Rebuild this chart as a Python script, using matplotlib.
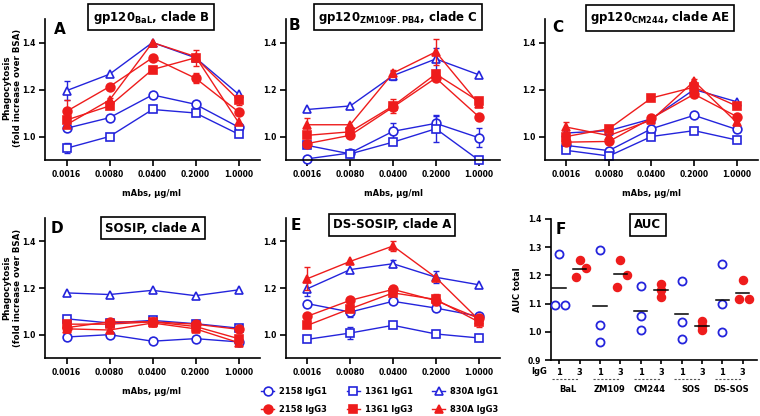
import numpy as np
import matplotlib
matplotlib.use('Agg')
from matplotlib import pyplot as plt
from matplotlib.lines import Line2D
import matplotlib.transforms as mtransforms

plt.rcParams['font.family'] = ['DejaVu Sans']
plt.rcParams['font.weight'] = 'bold'
plt.rcParams['axes.labelweight'] = 'bold'
plt.rcParams['mathtext.fontset'] = 'dejavusans'
plt.rcParams['axes.linewidth'] = 1.2

BLUE = '#2424dc'
RED = '#ee1c1c'

# ---- data ----
conc_labels = ['0.0016', '0.0080', '0.0400', '0.2000', '1.0000']
series_names = ['2158 IgG1', '1361 IgG1', '830A IgG1', '2158 IgG3', '1361 IgG3', '830A IgG3']

# rows follow series_names
bal_vals = [[1.035, 1.08, 1.177, 1.137, 1.04],
            [0.95, 1.0, 1.115, 1.10, 1.01],
            [1.195, 1.265, 1.40, 1.335, 1.18],
            [1.107, 1.212, 1.335, 1.248, 1.105],
            [1.07, 1.13, 1.285, 1.335, 1.156],
            [1.05, 1.155, 1.40, 1.34, 1.06]]
bal_err = [[0, 0, 0, 0.012, 0],
           [0.022, 0, 0, 0, 0],
           [0.04, 0, 0, 0, 0],
           [0.048, 0, 0, 0.022, 0],
           [0, 0, 0, 0.035, 0.02],
           [0, 0.01, 0, 0, 0]]

zm_vals = [[0.905, 0.93, 1.022, 1.056, 0.995],
           [0.962, 0.926, 0.976, 1.033, 0.90],
           [1.115, 1.13, 1.259, 1.33, 1.263],
           [0.97, 1.005, 1.125, 1.249, 1.085],
           [1.005, 1.02, 1.13, 1.266, 1.15],
           [1.05, 1.05, 1.27, 1.36, 1.14]]
zm_err = [[0, 0, 0.035, 0.035, 0.04],
          [0, 0, 0, 0.055, 0],
          [0, 0, 0.02, 0.045, 0],
          [0, 0, 0, 0, 0],
          [0, 0, 0.03, 0, 0.015],
          [0.03, 0, 0.015, 0.055, 0]]

cm_vals = [[0.962, 0.94, 1.033, 1.09, 1.03],
           [0.941, 0.917, 1.0, 1.025, 0.985],
           [1.015, 1.025, 1.075, 1.20, 1.148],
           [0.976, 0.979, 1.078, 1.18, 1.085],
           [1.0, 1.033, 1.164, 1.21, 1.13],
           [1.04, 1.004, 1.07, 1.235, 1.06]]
cm_err = [[0, 0, 0, 0, 0],
          [0, 0, 0, 0, 0],
          [0, 0, 0, 0, 0],
          [0, 0, 0, 0, 0],
          [0, 0, 0, 0, 0],
          [0.02, 0, 0, 0.01, 0]]

sosip_vals = [[0.99, 1.0, 0.972, 0.983, 0.969],
              [1.068, 1.05, 1.061, 1.047, 1.028],
              [1.179, 1.172, 1.19, 1.167, 1.192],
              [1.03, 1.055, 1.055, 1.045, 1.023],
              [1.045, 1.045, 1.055, 1.035, 0.983],
              [1.025, 1.02, 1.05, 1.025, 0.966]]
sosip_err = [[0] * 5 for _ in range(6)]

ds_vals = [[1.133, 1.097, 1.143, 1.114, 1.079],
           [0.98, 1.007, 1.04, 1.003, 0.986],
           [1.197, 1.279, 1.304, 1.246, 1.214],
           [1.079, 1.147, 1.194, 1.146, 1.07],
           [1.04, 1.111, 1.179, 1.151, 1.055],
           [1.24, 1.314, 1.38, 1.245, 1.065]]
ds_err = [[0, 0.02, 0, 0, 0],
          [0, 0.025, 0, 0, 0],
          [0.03, 0, 0.015, 0.025, 0],
          [0, 0, 0, 0, 0],
          [0, 0, 0, 0.025, 0.02],
          [0.05, 0, 0.02, 0, 0]]

auc_groups = ['BaL', 'ZM109', 'CM244', 'SOS', 'DS-SOS']
auc_igg1 = [[1.277, 1.095, 1.095], [1.29, 1.024, 0.964], [1.164, 1.056, 1.005],
            [1.179, 1.035, 0.974], [1.239, 1.099, 0.999]]
auc_igg3 = [[1.253, 1.194, 1.225], [1.253, 1.16, 1.20], [1.17, 1.148, 1.125],
            [1.04, 1.021, 1.005], [1.184, 1.115, 1.118]]

# ---- styles / layout ----
W, H = 760, 416
markers = ['o', 's', '^']
jitter1 = [[0, -0.18, 0.31], [0, 0, 0], [0, 0, 0], [0, 0, 0], [0, 0, 0]]
jitter3 = [[0, -0.16, 0.33], [0, -0.16, 0.33], [0, 0, 0], [0, 0, 0], [0, -0.2, 0.29]]


def box(l, r, t, b):
    return [l / W, 1 - b / H, (r - l) / W, (b - t) / H]


def fx(px):
    return px / W


def fy(py):
    return 1 - py / H


fig = plt.figure(figsize=(7.6, 4.16), dpi=100)


def style_axes(ax):
    for s in ['top', 'right']:
        ax.spines[s].set_visible(False)
    ax.tick_params(direction='out', length=4, width=1.2, labelsize=5.5, pad=3)


def draw_panel(ax, vals, errs):
    x = np.arange(5)
    for i in range(6):
        col = BLUE if i < 3 else RED
        fc = 'white' if i < 3 else col
        v = np.array(vals[i])
        e = np.array(errs[i])
        z = 2 + i * 0.1 if i < 3 else 4 + i * 0.1
        m = e > 0
        if m.any():
            ax.errorbar(x[m], v[m], yerr=e[m], fmt='none', ecolor=col, elinewidth=1.0,
                        capsize=2.5, capthick=1.0, zorder=z - 0.05, clip_on=False)
        ax.plot(x, v, color=col, lw=1.0, marker=markers[i % 3], ms=6.3, mfc=fc, mec=col,
                mew=1.2, zorder=z, clip_on=False)
    ax.set_xlim(-0.5, 4.5)
    ax.set_ylim(0.9, 1.5)
    ax.set_xticks(x)
    ax.set_xticklabels(conc_labels)
    ax.set_yticks([1.0, 1.2, 1.4])
    ax.set_yticklabels(['1.0', '1.2', '1.4'])
    style_axes(ax)


def title_box(cx, cy, txt):
    fig.text(fx(cx), fy(cy), txt, ha='center', va='center', fontsize=8.5, fontweight='bold',
             bbox=dict(boxstyle='square,pad=0.35', fc='white', ec='black', lw=1.2))


panels = [
    (box(45, 260, 19, 160), bal_vals, bal_err, 'A', (60, 30), (151, 17), 'gp120$_{\\mathbf{BaL}}$, clade B'),
    (box(286, 500, 19, 160), zm_vals, zm_err, 'B', (294, 25), (398, 17), 'gp120$_{\\mathbf{ZM109F.PB4}}$, clade C'),
    (box(545, 758, 19, 160), cm_vals, cm_err, 'C', (558, 28), (660, 18), 'gp120$_{\\mathbf{CM244}}$, clade AE'),
    (box(45, 260, 218, 358), sosip_vals, sosip_err, 'D', (57, 228), (153, 228), 'SOSIP, clade A'),
    (box(286, 500, 218, 358), ds_vals, ds_err, 'E', (296, 225), (392, 225), 'DS-SOSIP, clade A'),
]

for rect, vals, errs, letter, lpos, tpos, title in panels:
    ax = fig.add_axes(rect)
    draw_panel(ax, vals, errs)
    fig.text(fx(lpos[0]), fy(lpos[1]), letter, ha='center', va='center', fontsize=11, fontweight='bold')
    title_box(tpos[0], tpos[1], title)

# x labels
for cx, cy in [(152, 193), (393, 193), (652, 193), (152, 392)]:
    fig.text(fx(cx), fy(cy), 'mAbs, µg/ml', ha='center', va='center', fontsize=6)

# y labels
for cy in [88, 288]:
    fig.text(fx(12), fy(cy), 'Phagocytosis\n(fold increase over BSA)', ha='center', va='center',
             rotation=90, fontsize=6.2, linespacing=1.35)

# ---- panel F ----
axf = fig.add_axes(box(551, 757, 219, 360))
for g in range(5):
    p1 = 2 * g
    p3 = 2 * g + 1
    axf.scatter(p1 + np.array(jitter1[g]), auc_igg1[g], s=34, facecolors='white', edgecolors=BLUE,
                linewidths=1.3, zorder=3, clip_on=False)
    axf.scatter(p3 + np.array(jitter3[g]), auc_igg3[g], s=34, color=RED, zorder=3, clip_on=False)
    axf.plot([p1 - 0.33, p1 + 0.33], [np.mean(auc_igg1[g])] * 2, color='black', lw=1.1, zorder=4)
    axf.plot([p3 - 0.33, p3 + 0.33], [np.mean(auc_igg3[g])] * 2, color='black', lw=1.1, zorder=4)
axf.set_xlim(-0.4, 9.7)
axf.set_ylim(0.9, 1.4)
axf.set_yticks([0.9, 1.0, 1.1, 1.2, 1.3, 1.4])
axf.set_yticklabels(['0.9', '1.0', '1.1', '1.2', '1.3', '1.4'])
axf.set_xticks(np.arange(10))
axf.set_xticklabels(['1', '3'] * 5)
style_axes(axf)
axf.tick_params(axis='x', length=3, labelsize=6)
axf.set_ylabel('AUC total', fontsize=6, fontweight='bold', labelpad=4)

trans = mtransforms.blended_transform_factory(axf.transData, fig.transFigure)
fig.text(fx(539), fy(372), 'IgG', ha='center', va='center', fontsize=6)
for g, name in enumerate(auc_groups):
    axf.plot([2 * g - 0.35, 2 * g + 0.95], [fy(379)] * 2, transform=trans, color='#555555',
             lw=0.8, ls=(0, (2, 1.5)), clip_on=False)
    axf.text(2 * g + 0.45, fy(389), name, transform=trans, ha='center', va='center', fontsize=6)

fig.text(fx(561), fy(230), 'F', ha='center', va='center', fontsize=11, fontweight='bold')
title_box(648, 225, 'AUC')

# ---- legend ----
order = [0, 3, 1, 4, 2, 5]
handles = []
for i in order:
    col = BLUE if i < 3 else RED
    fc = 'white' if i < 3 else col
    handles.append(Line2D([], [], color=col, lw=1.0, marker=markers[i % 3], ms=6.3, mfc=fc, mec=col,
                          mew=1.2, label=series_names[i]))
fig.legend(handles=handles, ncol=3, loc='upper left', bbox_to_anchor=(fx(261), fy(387)),
           frameon=False, fontsize=6, handlelength=1.6, handletextpad=0.6, columnspacing=2.3,
           labelspacing=1.1, borderpad=0, borderaxespad=0)

fig.savefig('out.png', dpi=100)
